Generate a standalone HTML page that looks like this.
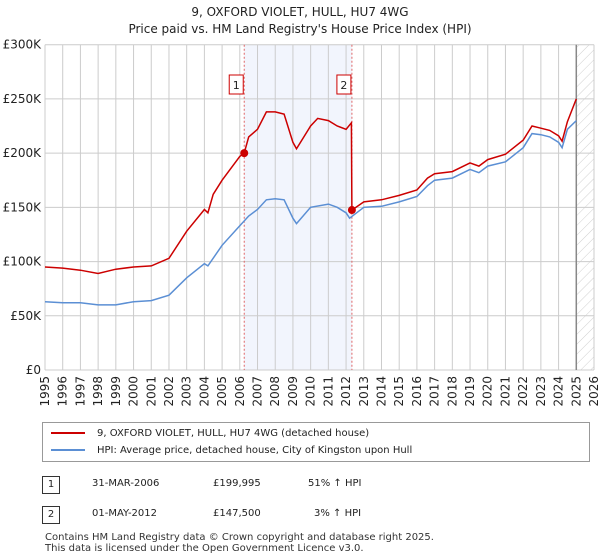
<!DOCTYPE html>
<html><head><meta charset="utf-8">
<style>
body{margin:0;background:#fff;font-family:"DejaVu Sans","Liberation Sans",sans-serif;}
#wrap{position:relative;width:600px;height:560px;overflow:hidden;}
.t{position:absolute;font-size:12px;color:#222;white-space:nowrap;}
</style></head><body>
<div id="wrap">
<div class="t" style="left:0;width:600px;text-align:center;top:4px;font-size:12px;line-height:17px">9, OXFORD VIOLET, HULL, HU7 4WG<br>Price paid vs. HM Land Registry's House Price Index (HPI)</div>
<svg id="chart" width="600" height="410" style="position:absolute;left:0;top:0"></svg>
<div style="position:absolute;left:42px;top:422px;width:548px;height:40px;border:1px solid #999;box-sizing:border-box;">
 <div class="t" style="left:8px;top:5px;font-size:10px"><span style="display:inline-block;width:34px;border-top:2px solid #cc0000;vertical-align:middle;margin-right:12px"></span>9, OXFORD VIOLET, HULL, HU7 4WG (detached house)</div>
 <div class="t" style="left:8px;top:22px;font-size:10px"><span style="display:inline-block;width:34px;border-top:2px solid #5b8fd4;vertical-align:middle;margin-right:12px"></span>HPI: Average price, detached house, City of Kingston upon Hull</div>
</div>
<div>
 <div class="t" style="left:42px;top:476px;width:16px;height:16px;border:1px solid #333;text-align:center;line-height:16px;font-size:10px">1</div>
 <div class="t" style="left:92px;top:478px;font-size:10px">31-MAR-2006</div>
 <div class="t" style="left:213px;top:478px;font-size:10px">£199,995</div>
 <div class="t" style="left:308px;top:478px;font-size:10px">51% ↑ HPI</div>
</div>
<div>
 <div class="t" style="left:42px;top:506px;width:16px;height:16px;border:1px solid #333;text-align:center;line-height:16px;font-size:10px">2</div>
 <div class="t" style="left:92px;top:508px;font-size:10px">01-MAY-2012</div>
 <div class="t" style="left:213px;top:508px;font-size:10px">£147,500</div>
 <div class="t" style="left:314px;top:508px;font-size:10px">3% ↑ HPI</div>
</div>
<div class="t" style="left:45px;top:532px;font-size:10px;line-height:11px;color:#333">Contains HM Land Registry data © Crown copyright and database right 2025.<br>This data is licensed under the Open Government Licence v3.0.</div>
</div>
<script>
const hpiYears=[1995,1996,1997,1998,1999,2000,2001,2002,2003,2004,2004.2,2005,2006,2006.5,2007,2007.5,2008,2008.5,2009,2009.2,2010,2011,2011.5,2012,2012.2,2013,2014,2015,2016,2016.6,2017,2018,2019,2019.5,2020,2021,2022,2022.5,2023,2023.5,2024,2024.2,2024.5,2025];
const hpiValues=[63,62,62,60,60,63,64,69,85,98,96,115,133,142,148,157,158,157,140,135,150,153,150,145,140,150,151,155,160,170,175,177,185,182,188,192,205,218,217,215,210,205,222,230];
const redYears=[1995,1996,1997,1998,1999,2000,2001,2002,2003,2004,2004.2,2004.5,2005,2006,2006.25,2006.5,2007,2007.5,2008,2008.5,2009,2009.2,2010,2010.4,2011,2011.5,2012,2012.3,2012.33,2013,2014,2015,2016,2016.6,2017,2018,2019,2019.5,2020,2021,2022,2022.5,2023,2023.5,2024,2024.2,2024.5,2025];
const redValues=[95,94,92,89,93,95,96,103,128,148,145,162,175,197,200,215,222,238,238,236,210,204,225,232,230,225,222,228,147.5,155,157,161,166,177,181,183,191,188,194,199,212,225,223,221,216,211,229,250];
const saleYears=[2006.25,2012.33];
const saleValues=[199.995,147.5];
const saleLabels=["1","2"];
const yTicks=[0,50,100,150,200,250,300];
const yTickLabels=["£0","£50K","£100K","£150K","£200K","£250K","£300K"];
const xTicks=[];for(let y=1995;y<=2026;y++)xTicks.push(y);

const X0=45,X1=594,Y0=370,Y1=44.7;
const xs=y=>X0+(y-1995)/(2026-1995)*(X1-X0);
const ys=v=>Y0-v/300*(Y0-Y1);
const svg=document.getElementById('chart');
const NS='http://www.w3.org/2000/svg';
const FF='DejaVu Sans, Liberation Sans, sans-serif';
function mk(tag,attrs,parent){const e=document.createElementNS(NS,tag);for(const k in attrs)e.setAttribute(k,attrs[k]);(parent||svg).appendChild(e);return e;}
const defs=mk('defs',{});
const pat=mk('pattern',{id:'hatch',width:7,height:7,patternUnits:'userSpaceOnUse',patternTransform:'rotate(45)'},defs);
mk('line',{x1:0,y1:0,x2:0,y2:7,stroke:'#d0d0d0','stroke-width':1},pat);
let r=mk('rect',{x:xs(saleYears[0]),y:Y1,width:xs(saleYears[1])-xs(saleYears[0]),height:Y0-Y1,fill:'#f2f5fd'});

r=mk('rect',{x:xs(2025),y:Y1,width:X1-xs(2025),height:Y0-Y1,fill:'url(#hatch)'});

xTicks.forEach(t=>{const l=mk('line',{x1:xs(t),x2:xs(t),y1:Y1,y2:Y0,stroke:'#ccc','stroke-width':1});
 
 const tx=mk('text',{x:0,y:0,transform:`translate(${xs(t)+4},${Y0+6}) rotate(-90)`,'text-anchor':'end','font-size':12,fill:'#222','font-family':FF});
 tx.textContent=t;});
yTicks.forEach((t,i)=>{const l=mk('line',{x1:X0,x2:X1,y1:ys(t),y2:ys(t),stroke:'#ccc','stroke-width':1});
 
 const tx=mk('text',{x:X0-4,y:ys(t)+4,'text-anchor':'end','font-size':12,fill:'#222','font-family':FF});
 tx.textContent=yTickLabels[i];});
let l=mk('line',{x1:xs(2025),x2:xs(2025),y1:Y1,y2:Y0,stroke:'#888','stroke-width':1.5});

saleYears.forEach((sy,i)=>{const v=mk('line',{x1:xs(sy),x2:xs(sy),y1:Y1,y2:Y0,stroke:'#e06666','stroke-width':1,'stroke-dasharray':'2,2'});
 
 const b=mk('rect',{x:xs(sy)-15,y:75,width:14,height:19,fill:'#fff',stroke:'#cc0000'});
 
 const tx=mk('text',{x:xs(sy)-8,y:89,'text-anchor':'middle','font-size':11,fill:'#222','font-family':FF});
 tx.textContent=saleLabels[i];});
function path(xa,va){return xa.map((x,i)=>(i?'L':'M')+xs(x).toFixed(1)+','+ys(va[i]).toFixed(1)).join('');}
let p=mk('path',{d:path(hpiYears,hpiValues),fill:'none',stroke:'#5b8fd4','stroke-width':1.5});

p=mk('path',{d:path(redYears,redValues),fill:'none',stroke:'#cc0000','stroke-width':1.5});

saleYears.forEach((sy,i)=>{const c=mk('circle',{cx:xs(sy),cy:ys(saleValues[i]),r:4,fill:'#cc0000'});
 });
</script>
</body></html>
